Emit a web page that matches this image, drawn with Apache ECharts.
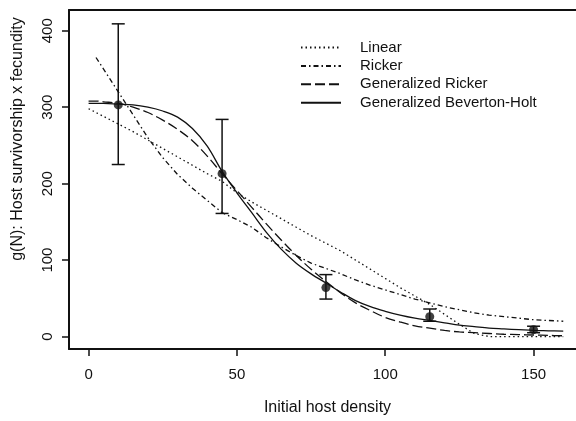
<!DOCTYPE html>
<html>
<head>
<meta charset="utf-8">
<script src="https://cdn.jsdelivr.net/npm/echarts@6/dist/echarts.min.js"></script>
<style>
  html, body { margin: 0; padding: 0; background: #fff; }
  #chart { width: 576px; height: 421px; }
</style>
</head>
<body>
<div id="chart"></div>
<script>
const xCurve = [0, 2.5, 5, 10, 15, 20, 25, 30, 35, 40, 45, 50, 55, 60, 65, 70, 75, 80,
                85, 90, 95, 100, 105, 110, 115, 120, 125, 130, 135, 140, 145, 150, 155, 160];
const linearY = [298, 293, 288, 278, 268, 257, 246, 235, 224, 213, 203, 188, 176, 165, 154, 143, 132, 122,
                 112, 100, 88, 76, 64, 53, 42, 29, 16, 4, 0, 0, 0, 0, 0, 0];
const rickerY = [null, 365, 350, 320, 290, 260, 234, 212, 194, 178, 162, 153, 143, 129, 117, 106, 96, 89,
                 82, 74, 67, 61, 55, 49, 44, 39, 35, 31, 28, 26, 24, 22, 21, 20];
const genRickerY = [308, 308, 307, 305, 300, 293, 283, 271, 256, 236, 213, 191, 169, 147, 126, 106, 88, 72,
                    57, 44, 34, 25, 19, 14, 11, 8, 6, 5, 4, 3, 2.5, 2, 1.5, 1];
const genBHY = [305, 305, 305, 304, 303, 300, 295, 287, 272, 249, 216, 188, 162, 136, 114, 96, 82, 70,
                58, 47, 39, 33, 28, 24, 21, 18, 15, 13, 11, 10, 9, 8, 7.5, 7];

// observed means with error bars
const ptX = [10, 45, 80, 115, 150];
const ptY = [303, 213, 64, 26, 9];
const errLo = [225, 161, 49, 20, 5];
const errHi = [409, 284, 81, 36, 13.5];

const xTicks = [0, 50, 100, 150];
const yTicks = [0, 100, 200, 300, 400];

const ink = '#111';
const font = 'Liberation Sans, Arial, Helvetica, sans-serif';

const pairs = (ys) => xCurve.map((x, i) => [x, ys[i]]);

const curve = (name, ys, dash, smooth) => ({
    name: name,
    type: 'line',
    data: pairs(ys),
    symbol: 'none',
    smooth: smooth,
    connectNulls: false,
    lineStyle: { color: ink, width: 1.3, type: dash },
    itemStyle: { color: ink },
    z: 3
});

const frame = { show: true, onZero: false, lineStyle: { color: ink, width: 2 } };

const chart = echarts.init(document.getElementById('chart'), null, { renderer: 'canvas' });

chart.setOption({
    animation: false,
    backgroundColor: '#fff',
    textStyle: { fontFamily: font },
    grid: { left: 69, top: 10, right: 0, bottom: 66 },
    legend: {
        orient: 'vertical',
        left: 300, top: 40,
        padding: 0,
        itemWidth: 40, itemHeight: 14, itemGap: 3.4,
        itemStyle: { opacity: 0 },
        textStyle: { fontFamily: font, fontSize: 15, color: ink, padding: [3, 0, 0, 14] },
        data: ['Linear', 'Ricker', 'Generalized Ricker', 'Generalized Beverton-Holt']
    },
    xAxis: [{
        type: 'value',
        min: -6.6, max: 164.3,
        axisLine: frame,
        splitLine: { show: false },
        axisTick: { show: true, length: 7, customValues: xTicks, lineStyle: { color: ink, width: 1.5 } },
        axisLabel: { customValues: xTicks, margin: 18, fontSize: 15, color: ink, fontFamily: font },
        name: 'Initial host density',
        nameLocation: 'middle',
        nameGap: 51,
        nameTextStyle: { fontSize: 16, color: ink, fontFamily: font, padding: [0, 0, 0, 10] }
    }, {
        type: 'value',
        position: 'top',
        min: -6.6, max: 164.3,
        axisLine: frame,
        axisTick: { show: false },
        axisLabel: { show: false },
        splitLine: { show: false }
    }],
    yAxis: {
        type: 'value',
        min: -16.3, max: 427.1,
        axisLine: frame,
        splitLine: { show: false },
        axisTick: { show: true, length: 7, customValues: yTicks, lineStyle: { color: ink, width: 1.5 } },
        axisLabel: { customValues: yTicks, rotate: 90, margin: 14, fontSize: 15, color: ink, fontFamily: font }
    },
    graphic: [{
        type: 'text',
        x: 18, y: 139,
        rotation: Math.PI / 2,
        style: {
            text: 'g(N): Host survivorship x fecundity',
            fill: ink, font: '16px ' + font,
            align: 'center', verticalAlign: 'middle'
        }
    }],
    series: [
        curve('Linear', linearY, [1.5, 3], false),
        curve('Ricker', rickerY, [5, 3, 1.5, 3], false),
        curve('Generalized Ricker', genRickerY, [10, 4], 0.35),
        curve('Generalized Beverton-Holt', genBHY, 'solid', 0.35),
        {
            type: 'custom',
            z: 4,
            data: ptX.map((x, i) => [x, errLo[i], errHi[i]]),
            renderItem: (params, api) => {
                const lo = api.coord([api.value(0), api.value(1)]);
                const hi = api.coord([api.value(0), api.value(2)]);
                const w = 6.5;
                const st = { stroke: ink, lineWidth: 1.5 };
                return {
                    type: 'group',
                    children: [
                        { type: 'line', shape: { x1: lo[0], y1: lo[1], x2: hi[0], y2: hi[1] }, style: st },
                        { type: 'line', shape: { x1: lo[0] - w, y1: lo[1], x2: lo[0] + w, y2: lo[1] }, style: st },
                        { type: 'line', shape: { x1: hi[0] - w, y1: hi[1], x2: hi[0] + w, y2: hi[1] }, style: st }
                    ]
                };
            }
        },
        {
            type: 'scatter',
            data: ptX.map((x, i) => [x, ptY[i]]),
            symbol: 'circle',
            symbolSize: 9,
            itemStyle: { color: ink },
            z: 5
        }
    ]
});
</script>
</body>
</html>
